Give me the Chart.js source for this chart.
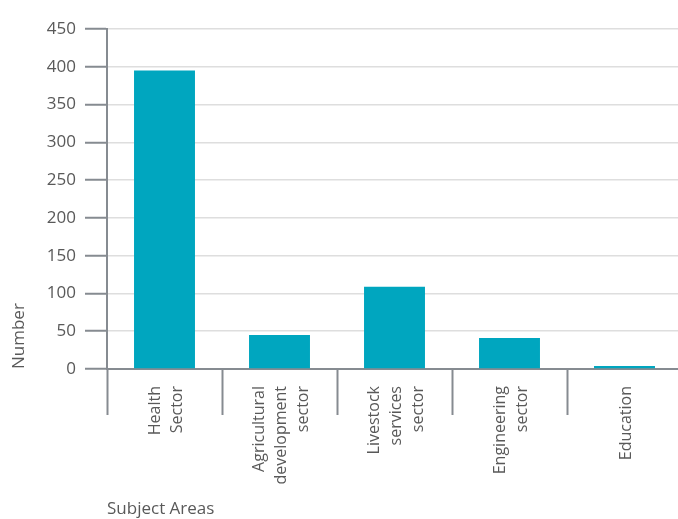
<!DOCTYPE html>
<html>
<head>
<meta charset="utf-8">
<script src="https://cdn.jsdelivr.net/npm/chart.js@4.4.1/dist/chart.umd.min.js"></script>
<style>
  html, body { margin: 0; padding: 0; background: #fff; overflow: hidden; }
  #wrap { width: 682px; height: 519px; position: relative; }
</style>
</head>
<body>
<div id="wrap"><canvas id="chart"></canvas></div>
<script>
const categories = [
    ['Health', 'Sector'],
    ['Agricultural', 'development', 'sector'],
    ['Livestock', 'services', 'sector'],
    ['Engineering', 'sector'],
    ['Education']
];
const counts = [395, 45, 109, 41, 4];
const yTicks = [0, 50, 100, 150, 200, 250, 300, 350, 400, 450];

const textColor = '#595959';
const axisGray = '#868b91';
const labelFont = { family: 'Open Sans', size: 16, lineHeight: 1.4 };
const font = { family: 'Open Sans', size: 17 };

// center multi-line rotated x labels on their category
const centerLabels = {
    id: 'centerLabels',
    beforeDraw(chart) {
        const xs = chart.scales.x;
        const items = xs.getLabelItems(chart.chartArea);
        items.forEach(item => {
            const lines = Array.isArray(item.label) ? item.label.length : 1;
            const lh = item.font.lineHeight;
            item.options.translation[0] -= (lines - 1) * lh / 2 - 2;
        });
    }
};

const ctx = document.getElementById('chart').getContext('2d');
new Chart(ctx, {
    type: 'bar',
    data: {
        labels: categories,
        datasets: [{
            label: 'Number',
            data: counts,
            backgroundColor: '#00A6BF',
            barPercentage: 0.53,
            categoryPercentage: 1
        }]
    },
    plugins: [centerLabels],
    options: {
        responsive: true,
        maintainAspectRatio: false,
        animation: false,
        layout: { padding: { top: 29, left: 4, right: 0, bottom: 0 } },
        plugins: {
            legend: { display: false },
            tooltip: { enabled: false }
        },
        scales: {
            x: {
                afterFit: function (axis) {
                    // keep the bottom band fixed like the original
                    axis.height = 150;
                },
                grid: {
                    offset: true,
                    drawOnChartArea: false,
                    tickLength: 46,
                    tickColor: axisGray,
                    tickWidth: 2
                },
                border: { color: axisGray, width: 2 },
                ticks: {
                    color: textColor,
                    font: labelFont,
                    maxRotation: 90,
                    minRotation: 90,
                    padding: -29,
                    autoSkip: false
                },
                title: {
                    display: true,
                    text: 'Subject Areas',
                    align: 'start',
                    color: textColor,
                    font: font,
                    padding: { top: 0, bottom: 0 }
                }
            },
            y: {
                min: 0,
                max: 450,
                afterBuildTicks: function (axis) {
                    axis.ticks = yTicks.map(v => ({ value: v }));
                },
                afterFit: function (axis) {
                    axis.width = 103;
                },
                grid: {
                    color: '#dedede',
                    lineWidth: 1.5,
                    tickLength: 22,
                    tickColor: axisGray,
                    tickWidth: 2
                },
                border: { color: axisGray, width: 2 },
                ticks: {
                    color: textColor,
                    font: font,
                    padding: 9
                },
                title: {
                    display: true,
                    text: 'Number',
                    align: 'start',
                    color: textColor,
                    font: font,
                    padding: { top: 5, bottom: 0 }
                }
            }
        }
    }
});
</script>
</body>
</html>
